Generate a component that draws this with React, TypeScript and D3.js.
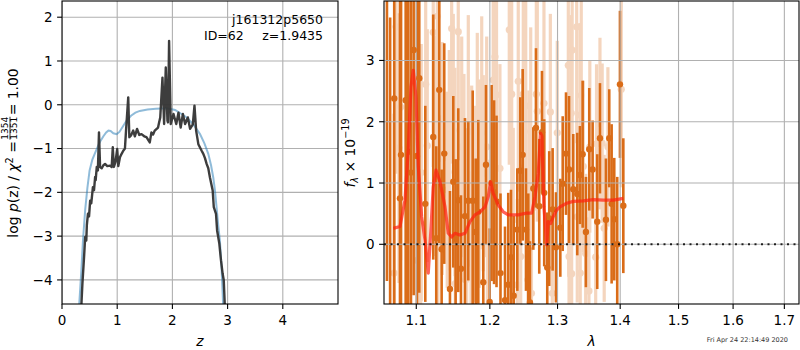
import React, { useEffect, useRef } from "react";
import * as d3 from "d3";

// left panel: log p(z)
const pzZ = [0.35, 0.37, 0.40, 0.42, 0.44, 0.45, 0.47, 0.49, 0.51, 0.53, 0.56, 0.58, 0.60, 0.61, 0.63, 0.65, 0.67, 0.69, 0.72, 0.75, 0.78, 0.82, 0.87, 0.90, 0.92, 0.94, 0.97, 1.00, 1.02, 1.05, 1.08, 1.11, 1.14, 1.16, 1.20, 1.22, 1.25, 1.29, 1.32, 1.36, 1.40, 1.44, 1.49, 1.53, 1.59, 1.62, 1.65, 1.68, 1.74, 1.76, 1.78, 1.82, 1.85, 1.88, 1.91, 1.92, 1.94, 1.97, 2.02, 2.07, 2.11, 2.15, 2.19, 2.23, 2.28, 2.32, 2.37, 2.40, 2.43, 2.47, 2.53, 2.56, 2.59, 2.62, 2.65, 2.68, 2.73, 2.75, 2.79, 2.81, 2.85, 2.88, 2.91, 2.93, 2.95];
const pzLog = [-4.6, -4.08, -3.47, -3.02, -3.1, -2.75, -2.49, -2.55, -2.19, -2.25, -1.88, -1.95, -1.65, -1.72, -1.42, -1.5, -0.63, -1.42, -1.45, -1.38, -1.35, -1.40, -1.39, -1.42, -0.97, -1.42, -1.3, -1.01, -1.4, -1.2, -1.12, -1.05, -1.0, -0.59, 0.17, -0.74, -0.70, -0.59, -0.72, -0.55, -0.69, -0.67, -0.72, -0.74, -0.86, -0.63, -0.68, -0.59, -0.52, -0.40, -0.29, 0.62, -0.44, 0.85, -0.36, -0.40, 1.46, -0.44, -0.21, -0.44, -0.18, -0.52, -0.21, -0.44, -0.29, -0.55, -0.45, -0.02, -0.59, -0.90, -1.05, -1.12, -1.22, -1.35, -1.45, -1.66, -1.96, -2.34, -2.49, -2.87, -3.17, -3.55, -3.86, -4.0, -4.6];

const priorZ = [0.31, 0.35, 0.38, 0.42, 0.46, 0.50, 0.55, 0.60, 0.65, 0.70, 0.75, 0.80, 0.84, 0.88, 0.93, 0.99, 1.04, 1.10, 1.17, 1.25, 1.33, 1.41, 1.55, 1.70, 1.90, 2.05, 2.15, 2.26, 2.38, 2.50, 2.58, 2.65, 2.70, 2.74, 2.77, 2.80, 2.83, 2.86, 2.89, 2.92];
const priorLog = [-4.6, -3.8, -3.1, -2.4, -1.9, -1.5, -1.25, -1.1, -0.95, -0.82, -0.72, -0.63, -0.59, -0.6, -0.65, -0.67, -0.62, -0.5, -0.36, -0.25, -0.18, -0.14, -0.11, -0.09, -0.08, -0.12, -0.2, -0.29, -0.45, -0.67, -0.88, -1.12, -1.38, -1.66, -1.95, -2.34, -2.75, -3.1, -3.7, -4.6];

// right panel: spectrum
const darkWave = [1.0625, 1.0665, 1.0717, 1.0790, 1.0803, 1.0863, 1.0896, 1.0931, 1.0966, 1.1009, 1.1039, 1.1118, 1.1223, 1.1263, 1.1303, 1.1335, 1.1370, 1.1447, 1.1492, 1.1524, 1.1560, 1.1597, 1.1652, 1.1698, 1.1759, 1.1801, 1.1837, 1.1907, 1.1945, 1.1998, 1.2025, 1.2060, 1.2095, 1.2152, 1.2217, 1.2264, 1.2304, 1.2343, 1.2396, 1.2440, 1.2475, 1.2524, 1.2558, 1.2583, 1.2633, 1.2673, 1.2722, 1.2763, 1.2797, 1.2843, 1.2873, 1.2925, 1.2976, 1.3043, 1.3080, 1.3131, 1.3178, 1.3244, 1.3307, 1.3349, 1.3392, 1.3444, 1.3497, 1.3551, 1.3625, 1.3669, 1.3766, 1.3820, 1.3859, 1.3902, 1.3951, 1.3996, 1.4052];
const darkFlux = [4.4, -1.3, 2.38, 0.75, 1.46, 2.35, 1.51, 1.17, 3.17, 1.44, 2.71, 0.66, 1.75, 0.10, 2.52, -0.08, 1.48, -0.73, 1.02, 0.09, 0.72, -0.40, 0.46, 0.71, 0.71, 0.20, 0.53, -0.62, 1.30, -0.94, 1.00, 0.85, 0.70, -0.47, -0.91, -0.66, -0.21, -0.84, 0.24, 1.20, 1.46, 0.24, -0.07, -0.95, 0.91, 1.90, 0.62, 1.83, 0.84, -0.38, 0.42, 0.57, -0.05, 0.27, 0.99, 1.48, 1.22, 0.90, 0.82, 1.13, 1.47, 0.20, 1.55, 1.22, 0.37, 1.73, 0.40, 1.73, 0.66, 0.41, 0.00, 2.61, 0.63];
const darkErr = [5, 5, 4.5, 4.2, 4, 4.5, 4, 4.2, 4, 3.8, 3.5, 1.6, 2.0, 1.5, 2.5, 1.3, 1.8, 1.6, 1.4, 1.3, 1.5, 1.2, 1.6, 1.3, 1.8, 1.2, 1.5, 1.4, 1.3, 1.2, 1.6, 1.5, 1.4, 1.3, 1.2, 1.5, 1.1, 1.3, 1.0, 1.2, 1.4, 1.0, 0.9, 1.0, 1.0, 1.3, 1.1, 1.0, 1.2, 0.9, 1.1, 1.0, 0.9, 0.8, 1.1, 1.0, 1.2, 0.9, 1.0, 0.8, 1.2, 0.9, 1.0, 0.8, 1.1, 0.9, 1.0, 0.8, 1.3, 1.0, 1.1, 1.2, 1.1];

const lightWave = [1.0715, 1.0740, 1.0777, 1.0799, 1.1013, 1.1057, 1.1065, 1.1123, 1.1144, 1.1223, 1.1255, 1.1277, 1.1285, 1.1298, 1.1344, 1.1410, 1.1438, 1.1470, 1.1492, 1.1515, 1.1520, 1.1560, 1.1607, 1.1638, 1.1665, 1.1676, 1.1698, 1.1735, 1.1745, 1.1791, 1.1823, 1.1851, 1.1885, 1.1907, 1.1955, 1.1965, 1.2048, 1.2059, 1.2073, 1.2095, 1.2144, 1.2279, 1.2314, 1.2337, 1.2396, 1.2410, 1.2446, 1.2484, 1.2520, 1.2553, 1.2566, 1.2594, 1.2605, 1.2678, 1.2693, 1.2793, 1.2890, 1.2920, 1.2996, 1.3167, 1.3173, 1.3178, 1.3213, 1.3219, 1.3227, 1.3298, 1.3307, 1.3349, 1.3354, 1.3370, 1.3402, 1.3440, 1.3492, 1.3506, 1.3600, 1.3614, 1.3669, 1.3705, 1.3738, 1.3798, 1.4018];
const lightFlux = [-0.47, 3.55, 1.57, 2.24, -0.26, 0.34, 1.17, 2.61, 1.61, 3.46, 1.61, 3.72, 0.24, 2.05, 1.40, 0.89, 1.37, 3.52, 1.86, 1.18, -0.64, 3.47, 1.59, 1.08, -0.58, 0.29, 1.84, -0.31, 0.89, 0.66, 1.65, 0.99, 1.82, 1.16, 1.59, -0.12, 2.68, 2.54, 3.06, 2.44, 1.24, 3.50, 2.45, 0.40, -0.66, 2.66, -0.20, 2.45, 2.26, -0.58, 0.91, 1.84, -0.80, 2.45, 2.17, 2.30, 2.16, -0.80, 1.82, 2.92, 0.97, -0.20, 2.14, -0.48, 3.17, 3.55, 0.45, 2.11, -0.47, 2.43, 1.27, -0.15, -0.76, 1.59, -0.21, 1.64, 1.97, 1.65, 0.26, 1.59, 2.53];
const lightErr = [2.6, 2.4, 2.2, 2.5, 2.0, 1.8, 2.1, 2.3, 1.9, 2.2, 1.8, 2.0, 1.7, 2.1, 1.9, 1.6, 1.8, 2.2, 1.9, 1.7, 1.6, 2.1, 1.8, 1.7, 1.5, 1.6, 1.9, 1.5, 1.7, 1.6, 1.8, 1.7, 1.9, 1.6, 1.8, 1.5, 2.0, 1.9, 2.1, 1.8, 1.7, 2.2, 1.9, 1.5, 1.4, 1.8, 1.5, 1.7, 1.8, 1.4, 1.6, 1.7, 1.4, 1.9, 1.8, 1.7, 1.6, 1.4, 1.5, 1.9, 1.5, 1.3, 1.6, 1.3, 1.8, 1.9, 1.4, 1.5, 1.3, 1.6, 1.4, 1.3, 1.2, 1.4, 1.2, 1.3, 1.4, 1.3, 1.2, 1.3, 1.6];

const modelWave = [1.0705, 1.079, 1.0854, 1.0896, 1.0931, 1.0961, 1.0996, 1.1026, 1.1070, 1.1114, 1.1157, 1.1189, 1.1223, 1.1259, 1.1313, 1.138, 1.1424, 1.147, 1.1515, 1.1583, 1.1652, 1.1721, 1.1791, 1.1861, 1.1931, 1.1978, 1.2011, 1.2048, 1.2120, 1.2192, 1.2264, 1.2337, 1.2410, 1.2534, 1.2608, 1.2658, 1.2707, 1.2743, 1.2763, 1.2793, 1.2834, 1.2858, 1.2895, 1.2934, 1.2987, 1.3038, 1.3141, 1.3244, 1.3402, 1.3561, 1.3723, 1.3887, 1.4052];
const modelFlux = [0.26, 0.29, 0.72, 1.54, 2.57, 2.84, 2.41, 1.27, 0.45, 0.07, -0.47, 0.18, 0.94, 1.21, 1.02, 0.61, 0.18, 0.12, 0.18, 0.15, 0.18, 0.37, 0.48, 0.53, 0.61, 0.78, 1.02, 0.83, 0.64, 0.53, 0.48, 0.48, 0.48, 0.51, 0.51, 0.78, 1.16, 1.81, 1.76, 0.61, -0.01, 0.37, 0.34, 0.45, 0.56, 0.61, 0.67, 0.70, 0.71, 0.73, 0.72, 0.72, 0.75];

const zTicks = [0, 1, 2, 3, 4];
const logTicks = [-4, -3, -2, -1, 0, 1, 2];
const waveTicks = [1.1, 1.2, 1.3, 1.4, 1.5, 1.6, 1.7];
const fluxTicks = [0, 1, 2, 3];

const FONT = "DejaVu Sans";
const minus = (v: number) => (v < 0 ? "\u2212" + Math.abs(v) : String(v));

const App = () => {
  const ref = useRef<SVGSVGElement>(null);

  useEffect(() => {
    const svg = d3.select(ref.current);
    svg.selectAll("*").remove();
    const grid = "#b0b0b0";
    const dark = "#da6c18";

    const xL = d3.scaleLinear().domain([0, 5]).range([62, 338]);
    const yL = d3.scaleLinear().domain([-4.55, 2.37]).range([304, 1]);
    const xR = d3.scaleLog().domain([1.0588, 1.7297]).range([384, 799]);
    const yR = d3.scaleLinear().domain([-0.974, 3.97]).range([304, 1]);

    const defs = svg.append("defs");
    defs.append("clipPath").attr("id", "clipL").append("rect").attr("x", 62).attr("y", 1).attr("width", 276).attr("height", 303);
    defs.append("clipPath").attr("id", "clipR").append("rect").attr("x", 384).attr("y", 1).attr("width", 415).attr("height", 303);

    const drawGrid = (g: any, x: any, y: any, xt: number[], yt: number[]) => {
      const [x0, x1] = x.range();
      const [y0, y1] = y.range();
      g.selectAll(".gx").data(xt).enter().append("line")
        .attr("x1", (d: number) => x(d)).attr("x2", (d: number) => x(d))
        .attr("y1", y0).attr("y2", y1).attr("stroke", grid).attr("stroke-width", 1.1);
      g.selectAll(".gy").data(yt).enter().append("line")
        .attr("x1", x0).attr("x2", x1)
        .attr("y1", (d: number) => y(d)).attr("y2", (d: number) => y(d))
        .attr("stroke", grid).attr("stroke-width", 1.1);
    };

    const drawFrame = (x: any, y: any, xt: number[], yt: number[], fx: (v: number) => string, fy: (v: number) => string) => {
      const [x0, x1] = x.range();
      const [y0, y1] = y.range();
      const g = svg.append("g");
      g.append("rect").attr("x", x0).attr("y", y1).attr("width", x1 - x0).attr("height", y0 - y1)
        .attr("fill", "none").attr("stroke", "black").attr("stroke-width", 1.1);
      xt.forEach(v => {
        g.append("line").attr("x1", x(v)).attr("x2", x(v)).attr("y1", y0).attr("y2", y0 + 4.9).attr("stroke", "black").attr("stroke-width", 1.1);
        g.append("text").attr("x", x(v)).attr("y", y0 + 20.5).attr("text-anchor", "middle")
          .attr("font-size", 13.5).attr("font-family", FONT).text(fx(v));
      });
      yt.forEach(v => {
        g.append("line").attr("x1", x0 - 4.9).attr("x2", x0).attr("y1", y(v)).attr("y2", y(v)).attr("stroke", "black").attr("stroke-width", 1.1);
        g.append("text").attr("x", x0 - 9.5).attr("y", y(v)).attr("dy", "0.36em").attr("text-anchor", "end")
          .attr("font-size", 13.5).attr("font-family", FONT).text(fy(v));
      });
    };

    // ---- left panel
    const left = svg.append("g").attr("clip-path", "url(#clipL)");
    drawGrid(left, xL, yL, zTicks, logTicks);
    const lineL = d3.line<[number, number]>().x(d => xL(d[0])).y(d => yL(d[1]));
    left.append("path").attr("d", lineL(priorZ.map((z, i) => [z, priorLog[i]]))!)
      .attr("fill", "none").attr("stroke", "#1f77b4").attr("stroke-opacity", 0.5).attr("stroke-width", 2);
    left.append("path").attr("d", lineL(pzZ.map((z, i) => [z, pzLog[i]]))!)
      .attr("fill", "none").attr("stroke", "#333").attr("stroke-opacity", 0.95).attr("stroke-width", 2.4)
      .attr("stroke-linejoin", "round");
    drawFrame(xL, yL, zTicks, logTicks, minus, minus);

    const ann = svg.append("g").attr("font-family", FONT).attr("font-size", 12.5);
    ann.append("text").attr("x", 323).attr("y", 24).attr("text-anchor", "end").text("j161312p5650");
    ann.append("text").attr("x", 204).attr("y", 39.5).text("ID=62");
    ann.append("text").attr("x", 323).attr("y", 39.5).attr("text-anchor", "end").text("z=1.9435");

    svg.append("text").attr("x", 200).attr("y", 345.5).attr("text-anchor", "middle")
      .attr("font-family", FONT).attr("font-size", 13.9).attr("font-style", "italic").text("z");

    // left y label, rotated, with a small fraction
    const yl = svg.append("g").attr("transform", "translate(18,153) rotate(-90)")
      .attr("font-family", FONT).attr("font-size", 13.9);
    const inner = yl.append("g");
    const t1 = inner.append("text").attr("x", 0).attr("y", 0);
    t1.append("tspan").text("log ");
    t1.append("tspan").attr("font-style", "italic").text("p");
    t1.append("tspan").text("(z) / ");
    t1.append("tspan").attr("font-style", "italic").text("\u03c7");
    t1.append("tspan").attr("font-size", 9.7).attr("dy", -5.5).text("2");
    t1.append("tspan").attr("dy", 5.5).text(" = ");
    const w1 = (t1.node() as SVGTextElement).getComputedTextLength();
    const fx = w1 + 1.5;
    const num = inner.append("text").attr("x", fx).attr("y", -9.6).attr("font-size", 9).text("1354");
    const fw = (num.node() as SVGTextElement).getComputedTextLength();
    inner.append("text").attr("x", fx).attr("y", -1.5).attr("font-size", 9).text("1351");
    inner.append("line").attr("x1", fx).attr("x2", fx + fw).attr("y1", -8).attr("y2", -8)
      .attr("stroke", "black").attr("stroke-width", 0.8);
    const t2 = inner.append("text").attr("x", fx + fw + 1.5).attr("y", 0).text(" = 1.00");
    const w2 = (t2.node() as SVGTextElement).getComputedTextLength();
    inner.attr("transform", `translate(${-(fx + fw + 1.5 + w2) / 2},0)`);

    // ---- right panel
    const right = svg.append("g").attr("clip-path", "url(#clipR)");
    const lightG = right.append("g").attr("opacity", 0.28);
    lightWave.forEach((w, i) => {
      lightG.append("line").attr("x1", xR(w)).attr("x2", xR(w))
        .attr("y1", yR(lightFlux[i] - lightErr[i])).attr("y2", yR(lightFlux[i] + lightErr[i]))
        .attr("stroke", dark).attr("stroke-width", 3.2);
    });
    lightWave.forEach((w, i) => {
      lightG.append("circle").attr("cx", xR(w)).attr("cy", yR(lightFlux[i])).attr("r", 3.6).attr("fill", dark);
    });
    const darkG = right.append("g");
    darkWave.forEach((w, i) => {
      darkG.append("line").attr("x1", xR(w)).attr("x2", xR(w))
        .attr("y1", yR(darkFlux[i] - darkErr[i])).attr("y2", yR(darkFlux[i] + darkErr[i]))
        .attr("stroke", dark).attr("stroke-width", 2.6);
    });
    drawGrid(right, xR, yR, waveTicks, fluxTicks);
    darkWave.forEach((w, i) => {
      right.append("circle").attr("cx", xR(w)).attr("cy", yR(darkFlux[i])).attr("r", 3.2).attr("fill", dark);
    });
    const lineR = d3.line<[number, number]>().x(d => xR(d[0])).y(d => yR(d[1]));
    right.append("path").attr("d", lineR(modelWave.map((w, i) => [w, modelFlux[i]]))!)
      .attr("fill", "none").attr("stroke", "#ff2010").attr("stroke-opacity", 0.7).attr("stroke-width", 3.2)
      .attr("stroke-linejoin", "round");
    right.append("line").attr("x1", 384).attr("x2", 799).attr("y1", yR(0)).attr("y2", yR(0))
      .attr("stroke", "black").attr("stroke-opacity", 0.85).attr("stroke-width", 2).attr("stroke-dasharray", "2,4.5");
    drawFrame(xR, yR, waveTicks, fluxTicks, v => v.toFixed(1), minus);

    svg.append("text").attr("x", 591.5).attr("y", 345.5).attr("text-anchor", "middle")
      .attr("font-family", FONT).attr("font-size", 13.9).attr("font-style", "italic").text("\u03bb");

    const yr = svg.append("text").attr("transform", "translate(355,153) rotate(-90)")
      .attr("text-anchor", "middle").attr("font-family", FONT).attr("font-size", 13.9);
    yr.append("tspan").attr("font-style", "italic").text("f");
    yr.append("tspan").attr("font-style", "italic").attr("font-size", 9.7).attr("dy", 3).text("\u03bb");
    yr.append("tspan").attr("dy", -3).text(" \u00d7 10");
    yr.append("tspan").attr("font-size", 9.7).attr("dy", -6).text("\u221219");

    svg.append("text").attr("x", 788).attr("y", 342).attr("text-anchor", "end")
      .attr("font-family", FONT).attr("font-size", 6.5).attr("fill", "#333")
      .text("Fri Apr 24 22:14:49 2020");
  }, []);

  return (
    <svg ref={ref} width={800} height={350}
      style={{ position: "absolute", left: 0, top: 0, background: "white" }} />
  );
};

export default App;
